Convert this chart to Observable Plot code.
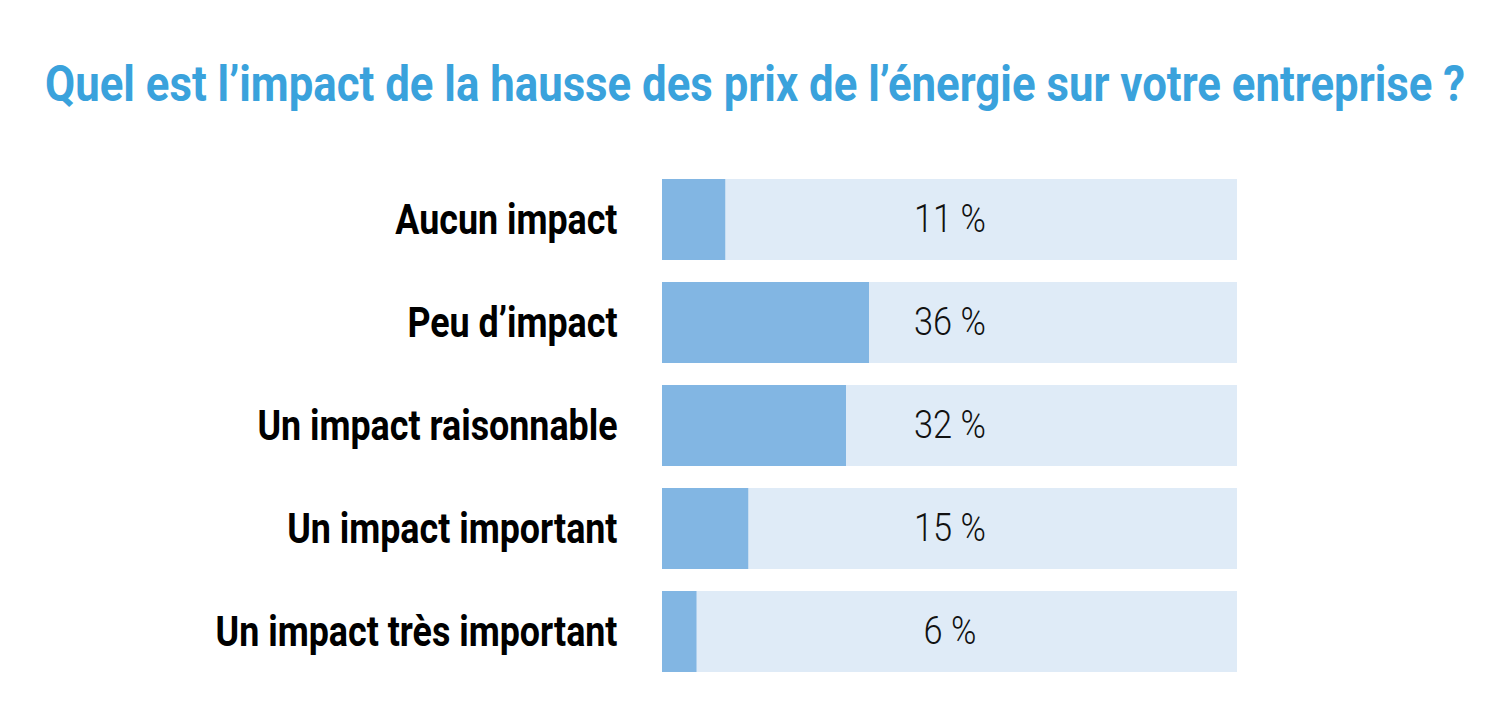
<!DOCTYPE html>
<html>
<head>
<meta charset="utf-8">
<script src="https://cdn.jsdelivr.net/npm/d3@7"></script>
<script src="https://cdn.jsdelivr.net/npm/@observablehq/plot@0.6"></script>
<style>
  html, body { margin: 0; padding: 0; background: #fff; }
  #title {
    height: 140px; position: relative; overflow: visible;
    font-family: Roboto, "DejaVu Sans Condensed", sans-serif;
  }
  #title span {
    position: absolute; left: 45px; top: 59px; white-space: nowrap;
    font-size: 50px; font-weight: bold; color: #3aa2dc; transform-origin: 0 0;
    line-height: 1;
  }
</style>
</head>
<body>
<div id="title"><span id="t">Quel est l’impact de la hausse des prix de l’énergie sur votre entreprise ?</span></div>
<div id="chart"></div>
<script>
const categories = ["Aucun impact", "Peu d’impact", "Un impact raisonnable", "Un impact important", "Un impact très important"];
const values = [11, 36, 32, 15, 6];
const valueLabels = ["11 %", "36 %", "32 %", "15 %", "6 %"];

const data = categories.map((c, i) => ({category: c, value: values[i], label: valueLabels[i]}));
const font = "Roboto, 'DejaVu Sans Condensed', sans-serif";

const chart = Plot.plot({
  width: 1486,
  height: 584,
  marginLeft: 662,
  marginRight: 249,
  marginTop: 27,
  marginBottom: 41,
  style: {fontFamily: font, background: "#fff"},
  x: {domain: [0, 100], axis: null},
  y: {domain: categories, paddingInner: 0.2136, paddingOuter: 0.1068, axis: null},
  marks: [
    Plot.barX(data, {y: "category", x1: 0, x2: 100, fill: "#dfebf7"}),
    Plot.barX(data, {y: "category", x1: 0, x2: "value", fill: "#82b6e3"}),
    Plot.text(data, {y: "category", x: 50, text: "label", fontSize: 39, fontWeight: 300, fill: "#111", textAnchor: "middle", lineAnchor: "middle", className: "vlabels"}),
    Plot.text(data, {y: "category", x: 0, dx: -45, text: "category", fontSize: 43, fontWeight: "bold", fill: "#000", textAnchor: "end", lineAnchor: "middle", className: "clabels"})
  ]
});
document.getElementById("chart").appendChild(chart);

const svg = d3.select(chart);
const xs = d3.scaleLinear().domain([0, 100]).range([662, 1237]);

function condense(g, cx, s) {
  const prev = g.getAttribute("transform") || "";
  g.setAttribute("transform", `${prev} translate(${cx},0) scale(${s},1) translate(${-cx},0)`);
}

// condense category labels horizontally around their right edge
// (the mark's dx is already applied by the group's own transform)
const cg = svg.select("g.clabels").node();
condense(cg, xs(0), 402 / cg.getBBox().width);

// condense value labels around the track centre
const vg = svg.select("g.vlabels").node();
condense(vg, xs(50), 72 / vg.querySelector("text").getComputedTextLength());

// fit title width to reference span
const t = document.getElementById("t");
const w = t.getBoundingClientRect().width;
t.style.transform = `scaleX(${1420 / w})`;
</script>
</body>
</html>
